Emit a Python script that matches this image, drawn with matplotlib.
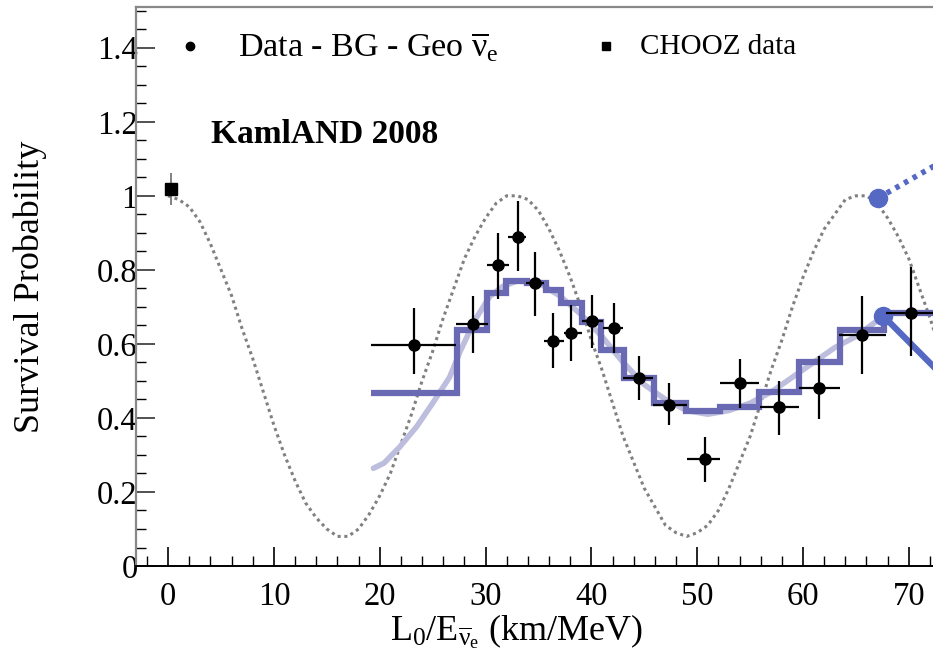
import matplotlib
matplotlib.use("Agg")
import matplotlib.pyplot as plt
from matplotlib.ticker import MultipleLocator, FormatStrFormatter

plt.rcParams['font.family'] = ['Liberation Serif', 'DejaVu Serif']
plt.rcParams['mathtext.fontset'] = 'custom'
plt.rcParams['mathtext.rm'] = 'Liberation Serif'
plt.rcParams['mathtext.it'] = 'Liberation Serif:italic'

# KamLAND data points (Data - BG - Geo)
data_x = [23.2, 28.8, 31.2, 33.05, 34.7, 36.4, 38.1, 40.1, 42.1, 44.5, 47.35,
          50.75, 54.05, 57.75, 61.55, 65.55, 70.2]
data_y = [0.597, 0.654, 0.814, 0.89, 0.764, 0.608, 0.63, 0.663, 0.642, 0.507,
          0.435, 0.289, 0.494, 0.429, 0.48, 0.624, 0.683]
data_x_lo = [19.2, 27.2, 30.1, 32.1, 33.8, 35.5, 37.4, 39.1, 41.1, 43.0, 45.8,
             49.0, 52.2, 55.9, 59.6, 63.4, 67.8]
data_x_hi = [27.2, 30.2, 32.2, 33.8, 35.5, 37.4, 39.1, 41.1, 43.0, 45.8, 49.0,
             52.2, 55.8, 59.6, 63.5, 67.8, 73.0]
data_y_lo = [0.519, 0.576, 0.72, 0.798, 0.676, 0.536, 0.554, 0.589, 0.575, 0.449,
             0.381, 0.227, 0.426, 0.354, 0.396, 0.519, 0.566]
data_y_hi = [0.697, 0.73, 0.90, 0.987, 0.847, 0.684, 0.705, 0.732, 0.71, 0.566,
             0.494, 0.349, 0.559, 0.501, 0.566, 0.73, 0.809]

# CHOOZ point
chooz_x = [0.25]
chooz_y = [1.018]
chooz_y_lo = [0.976]
chooz_y_hi = [1.062]

# best fit histogram
hist_edges = [19.2, 27.3, 30.1, 31.9, 33.9, 35.7, 37.1, 39.1, 40.9, 43.1, 45.9,
              48.9, 52.2, 55.8, 59.6, 63.5, 67.7, 80.0]
hist_vals = [0.468, 0.638, 0.737, 0.771, 0.765, 0.746, 0.71, 0.66, 0.584, 0.507,
             0.44, 0.42, 0.429, 0.471, 0.552, 0.638, 0.683]

# smooth fit (light)
fit_x = [19.4, 20.4, 21.9, 23.5, 25.0, 26.6, 27.6, 29.0, 30.4, 31.6, 33.0, 35.0,
         37.0, 39.0, 41.0, 43.0, 45.0, 47.0, 49.0, 51.0, 53.0, 55.0, 57.0, 59.0,
         61.0, 63.0, 65.0, 67.6]
fit_y = [0.264, 0.278, 0.322, 0.377, 0.44, 0.51, 0.58, 0.665, 0.728, 0.755, 0.77,
         0.765, 0.73, 0.68, 0.62, 0.55, 0.49, 0.45, 0.42, 0.41, 0.42, 0.44, 0.47,
         0.51, 0.55, 0.59, 0.62, 0.675]

# two-flavour oscillation curve (grey dotted)
osc_x = list(range(0, 74))
osc_y = [1.00, 0.99, 0.97, 0.93, 0.87, 0.80, 0.73, 0.64, 0.56, 0.47,
         0.38, 0.30, 0.23, 0.17, 0.13, 0.10, 0.08, 0.08, 0.10, 0.14,
         0.19, 0.25, 0.33, 0.41, 0.50, 0.58, 0.67, 0.75, 0.83, 0.89,
         0.94, 0.98, 1.00, 1.00, 0.99, 0.96, 0.91, 0.85, 0.78, 0.70,
         0.61, 0.53, 0.44, 0.35, 0.28, 0.21, 0.16, 0.11, 0.09, 0.08,
         0.09, 0.11, 0.15, 0.21, 0.28, 0.35, 0.44, 0.53, 0.61, 0.70,
         0.78, 0.85, 0.91, 0.95, 0.99, 1.00, 1.00, 0.98, 0.94, 0.89,
         0.83, 0.75, 0.67, 0.58]

# connector lines going off to the right
conn_top_x = [67.1, 80.0]
conn_top_y = [0.994, 1.205]
conn_bot_x = [67.6, 80.0]
conn_bot_y = [0.675, 0.318]

hist_color = '#6a6ab4'
light_color = '#bdbddd'
dot_color = '#5468c4'

fig = plt.figure(figsize=(9.33, 6.6), dpi=100)
# axes runs past the right edge of the picture, as in the cropped original
ax = fig.add_axes([0.1462, 0.1424, 0.9186, 0.847])
ax.set_xlim(-3, 78)
ax.set_ylim(0, 1.51)

ax.plot(osc_x, osc_y, color='#808080', lw=2.2, ls=(0, (1, 1.2)), zorder=2)
ax.plot(fit_x, fit_y, color=light_color, lw=4, solid_capstyle='round', zorder=3)
ax.stairs(hist_vals, hist_edges, baseline=None, color=hist_color, lw=4.5, zorder=4)

ax.plot(conn_top_x, conn_top_y, color=dot_color, lw=4, ls=(0, (0.8, 1.0)), zorder=5)
ax.plot(conn_bot_x, conn_bot_y, color=dot_color, lw=4.5, zorder=5)
ax.plot(conn_top_x[:1], conn_top_y[:1], 'o', color=dot_color, ms=13, zorder=6)
ax.plot(conn_bot_x[:1], conn_bot_y[:1], 'o', color=dot_color, ms=13, zorder=6)

xerr = [[x - lo for x, lo in zip(data_x, data_x_lo)],
        [hi - x for x, hi in zip(data_x, data_x_hi)]]
yerr = [[y - lo for y, lo in zip(data_y, data_y_lo)],
        [hi - y for y, hi in zip(data_y, data_y_hi)]]
ax.errorbar(data_x, data_y, xerr=xerr, yerr=yerr, fmt='o', color='black',
            ms=8, elinewidth=1.6, capsize=0, zorder=8)
ax.errorbar(chooz_x, chooz_y,
            yerr=[[chooz_y[0] - chooz_y_lo[0]], [chooz_y_hi[0] - chooz_y[0]]],
            fmt='s', color='black', ecolor='#777777', ms=8, elinewidth=1.3,
            capsize=0, zorder=8)

# legend, drawn by hand like the ROOT one
ax.plot([0.0623], [0.930], 'o', color='black', ms=6, transform=ax.transAxes, clip_on=False)
ax.text(0.1185, 0.928, r'Data - BG - Geo $\overline{\mathrm{\nu}}_{\mathrm{e}}$',
        transform=ax.transAxes, fontsize=24.5, va='center', ha='left')
ax.plot([0.5485], [0.930], 's', color='black', ms=6, transform=ax.transAxes, clip_on=False)
ax.text(0.5875, 0.928, 'CHOOZ data', transform=ax.transAxes, fontsize=21,
        va='center', ha='left')

ax.text(0.0874, 0.772, 'KamlAND 2008', transform=ax.transAxes, fontsize=24,
        fontweight='bold', va='center', ha='left')

ax.xaxis.set_major_locator(MultipleLocator(10))
ax.xaxis.set_minor_locator(MultipleLocator(2))
ax.yaxis.set_major_locator(MultipleLocator(0.2))
ax.yaxis.set_minor_locator(MultipleLocator(0.05))
ax.yaxis.set_major_formatter(FormatStrFormatter('%g'))
ax.tick_params(which='both', direction='in', labelsize=23.5)
ax.tick_params(which='major', length=14, width=1.2)
ax.tick_params(which='minor', length=7, width=1.0)
ax.tick_params(axis='y', colors='#333333', labelcolor='black', pad=-1)
ax.tick_params(axis='x', pad=11)

for side in ['left', 'top']:
    ax.spines[side].set_color('#888888')
    ax.spines[side].set_linewidth(1.6)
ax.spines['bottom'].set_linewidth(1.4)
ax.spines['right'].set_visible(False)

ax.set_ylabel('Survival Probability', fontsize=26)
ax.yaxis.set_label_coords(-0.104, 0.5)
ax.set_xlabel(r'$\mathrm{L_{0}/E_{\overline{\nu}_{e}}}$ (km/MeV)', fontsize=26)
ax.xaxis.set_label_coords(0.443, -0.082)

fig.savefig('out.png', dpi=100)
